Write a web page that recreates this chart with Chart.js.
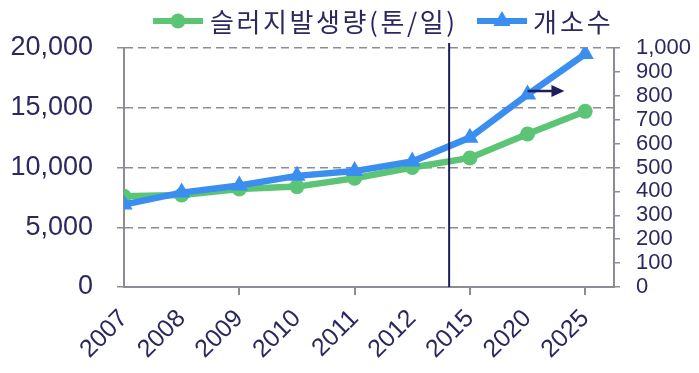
<!DOCTYPE html>
<html>
<head>
<meta charset="utf-8">
<script src="https://cdn.jsdelivr.net/npm/chart.js@4"></script>
<style>
  html, body { margin: 0; padding: 0; background: #fff; }
  #wrap { width: 699px; height: 373px; }
</style>
</head>
<body>
<div id="wrap"><canvas id="c"></canvas></div>
<script>
// 데이터
const years = ['2007', '2008', '2009', '2010', '2011', '2012', '2015', '2020', '2025'];
const sludge = [7600, 7700, 8200, 8400, 9100, 10000, 10800, 12800, 14700]; // 슬러지발생량(톤/일)
const plants = [345, 395, 425, 465, 485, 525, 625, 805, 975];              // 개소수

const NAVY = '#2b2860';
const GRID = '#8c8c96';
const GREEN = '#5cc575';
const BLUE = '#3a8ef0';

// 범례 + 구분선 + 화살표
const extras = {
  id: 'extras',
  afterDatasetsDraw(chart) {
    const ctx = chart.ctx, x = chart.scales.x, y1 = chart.scales.y1, a = chart.chartArea;
    ctx.save();
    // 2012~2015 사이 세로선
    const vx = x.getPixelForValue(5.64);
    ctx.strokeStyle = '#1f1c5c';
    ctx.lineWidth = 2;
    ctx.beginPath();
    ctx.moveTo(vx, a.top - 5);
    ctx.lineTo(vx, a.bottom);
    ctx.stroke();
    // 오른쪽 축 화살표
    const x0 = x.getPixelForValue(7), x1 = x.getPixelForValue(7.64), ay = y1.getPixelForValue(820);
    ctx.lineWidth = 2.5;
    ctx.beginPath();
    ctx.moveTo(x0, ay);
    ctx.lineTo(x1 - 10, ay);
    ctx.stroke();
    ctx.fillStyle = '#1f1c5c';
    ctx.beginPath();
    ctx.moveTo(x1, ay);
    ctx.lineTo(x1 - 13, ay - 6);
    ctx.lineTo(x1 - 13, ay + 6);
    ctx.closePath();
    ctx.fill();
    ctx.restore();
  },
  afterDraw(chart) {
    const ctx = chart.ctx;
    const ds = chart.data.datasets;
    const items = [
      { d: ds[0], lx: 153, tx: 210, sp: '2.6px' },
      { d: ds[1], lx: 477, tx: 533, sp: '3px' }
    ];
    const ly = 21;
    ctx.save();
    items.forEach(it => {
      ctx.strokeStyle = it.d.borderColor;
      ctx.lineWidth = 6;
      ctx.beginPath();
      ctx.moveTo(it.lx, ly);
      ctx.lineTo(it.lx + 50, ly);
      ctx.stroke();
      ctx.fillStyle = it.d.borderColor;
      const cx = it.lx + 25;
      ctx.beginPath();
      if (it.d.pointStyle === 'triangle') {
        const r = 10;
        ctx.moveTo(cx, ly - r);
        ctx.lineTo(cx + r * Math.sin(2 * Math.PI / 3), ly - r * Math.cos(2 * Math.PI / 3));
        ctx.lineTo(cx - r * Math.sin(2 * Math.PI / 3), ly - r * Math.cos(2 * Math.PI / 3));
        ctx.closePath();
      } else {
        ctx.arc(cx, ly, 7.5, 0, Math.PI * 2);
      }
      ctx.fill();
      ctx.fillStyle = NAVY;
      ctx.font = '26px "Noto Sans CJK KR"';
      ctx.letterSpacing = it.sp;
      ctx.textBaseline = 'middle';
      ctx.textAlign = 'left';
      ctx.fillText(it.d.label, it.tx, ly + 1);
    });
    ctx.restore();
  }
};

const evenTick = c => (c.tick && c.tick.value % 2 === 0 && c.tick.value > 0) ? GRID : 'rgba(0,0,0,0)';

new Chart(document.getElementById('c'), {
  type: 'line',
  data: {
    datasets: [
      {
        label: '슬러지발생량(톤/일)',
        data: sludge.map((v, i) => ({ x: i, y: v })),
        yAxisID: 'y',
        borderColor: GREEN,
        backgroundColor: GREEN,
        borderWidth: 6.5,
        pointStyle: 'circle',
        pointRadius: 7.5,
        pointBorderWidth: 0,
        order: 2
      },
      {
        label: '개소수',
        data: plants.map((v, i) => ({ x: i, y: v })),
        yAxisID: 'y1',
        borderColor: BLUE,
        backgroundColor: BLUE,
        borderWidth: 6.5,
        pointStyle: 'triangle',
        pointRadius: 10,
        pointBorderWidth: 0,
        order: 1
      }
    ]
  },
  options: {
    responsive: true,
    maintainAspectRatio: false,
    animation: false,
    layout: { padding: { top: 48, bottom: 0, left: 0, right: 0 } },
    plugins: { legend: { display: false }, tooltip: { enabled: false } },
    scales: {
      x: {
        type: 'linear',
        min: 0,
        max: 8.5,
        afterBuildTicks: s => { s.ticks = years.map((_, i) => ({ value: i })); },
        afterFit: s => { s.height = 86; },
        ticks: {
          autoSkip: false,
          minRotation: 45,
          maxRotation: 45,
          padding: 9,
          color: NAVY,
          font: { family: 'Liberation Sans', size: 25 },
          callback: v => years[v]
        },
        grid: {
          drawOnChartArea: false,
          tickLength: 8,
          lineWidth: 2,
          tickWidth: 2,
          color: evenTick,
          tickColor: evenTick
        },
        border: { display: true, color: GRID, width: 2 }
      },
      y: {
        position: 'left',
        min: 0,
        max: 20000,
        afterBuildTicks: s => { s.ticks = [0, 5000, 10000, 15000, 20000].map(v => ({ value: v })); },
        afterFit: s => { s.width = 124; },
        ticks: {
          padding: 24,
          color: NAVY,
          font: { family: 'Liberation Sans', size: 27 }
        },
        grid: {
          color: GRID,
          lineWidth: 1.5,
          tickLength: 7,
          tickBorderDash: [],
          tickColor: GRID
        },
        border: { display: true, color: GRID, width: 2, dash: [8, 5] }
      },
      y1: {
        position: 'right',
        min: 0,
        max: 1000,
        afterBuildTicks: s => { s.ticks = [0, 100, 200, 300, 400, 500, 600, 700, 800, 900, 1000].map(v => ({ value: v })); },
        afterFit: s => { s.width = 85; },
        ticks: {
          autoSkip: false,
          padding: 16,
          color: NAVY,
          font: { family: 'Liberation Sans', size: 22, lineHeight: 1 }
        },
        grid: {
          drawOnChartArea: false,
          color: GRID,
          lineWidth: 1.5,
          tickLength: 6
        },
        border: { display: true, color: GRID, width: 2 }
      }
    }
  },
  plugins: [extras]
});
</script>
</body>
</html>
